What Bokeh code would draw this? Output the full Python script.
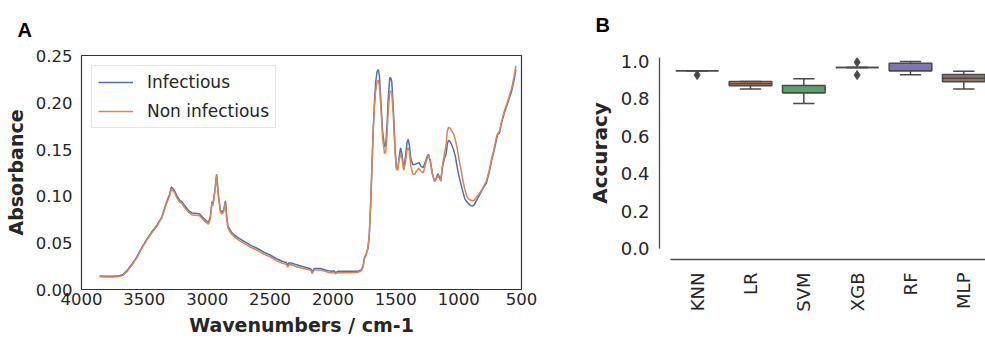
import math
from bokeh.plotting import figure
from bokeh.models import Range1d, Legend, LegendItem, FixedTicker, PrintfTickFormatter
from bokeh.layouts import row
from bokeh.embed import file_html
from bokeh.resources import INLINE

# ---------------- Panel A data: mean FTIR spectra ----------------
wavenumbers = [3857, 3800, 3750, 3700, 3670, 3640, 3600, 3560, 3520, 3480, 3440, 3400,
               3360, 3346, 3320, 3300, 3285, 3260, 3240, 3220, 3200, 3180, 3150, 3120,
               3080, 3060, 3040, 3010, 2990, 2975, 2962, 2955, 2940, 2925, 2910, 2895,
               2885, 2870, 2855, 2845, 2835, 2810, 2780, 2750, 2700, 2650, 2600, 2550,
               2500, 2450, 2400, 2370, 2360, 2350, 2330, 2300, 2250, 2200, 2175, 2165,
               2150, 2100, 2060, 2030, 2010, 1990, 1980, 1960, 1900, 1850, 1800, 1775,
               1760, 1750, 1735, 1720, 1710, 1700, 1690, 1680, 1670, 1660, 1650, 1640,
               1630, 1620, 1605, 1590, 1580, 1570, 1560, 1548, 1540, 1532, 1520, 1505,
               1495, 1485, 1475, 1462, 1450, 1437, 1425, 1410, 1402, 1392, 1380, 1365,
               1350, 1335, 1315, 1300, 1282, 1265, 1250, 1240, 1225, 1210, 1192, 1180,
               1165, 1150, 1142, 1130, 1115, 1100, 1090, 1080, 1068, 1055, 1040, 1025,
               1010, 995, 980, 965, 950, 935, 920, 905, 890, 875, 860, 840,
               820, 800, 780, 760, 740, 720, 700, 690, 675, 660, 640, 620,
               600, 580, 560, 545]
infectious = [0.0146, 0.0143, 0.0142, 0.0147, 0.0160, 0.0200, 0.0270, 0.0350, 0.0450, 0.0540, 0.0620, 0.0690,
              0.0780, 0.0844, 0.0950, 0.1020, 0.1100, 0.1060, 0.1000, 0.0960, 0.0940, 0.0900, 0.0850, 0.0820,
              0.0815, 0.0810, 0.0780, 0.0740, 0.0720, 0.0780, 0.0940, 0.0920, 0.1050, 0.1235, 0.1000, 0.0850,
              0.0830, 0.0850, 0.0950, 0.0780, 0.0680, 0.0620, 0.0580, 0.0550, 0.0510, 0.0470, 0.0440, 0.0400,
              0.0370, 0.0330, 0.0300, 0.0290, 0.0260, 0.0285, 0.0285, 0.0270, 0.0250, 0.0230, 0.0220, 0.0190,
              0.0225, 0.0225, 0.0210, 0.0200, 0.0195, 0.0200, 0.0180, 0.0195, 0.0195, 0.0195, 0.0195, 0.0210,
              0.0250, 0.0340, 0.0380, 0.0450, 0.0600, 0.0900, 0.1300, 0.1700, 0.2000, 0.2220, 0.2330, 0.2360,
              0.2290, 0.2050, 0.1700, 0.1530, 0.1550, 0.1750, 0.2050, 0.2270, 0.2270, 0.2230, 0.1950, 0.1500,
              0.1310, 0.1290, 0.1400, 0.1520, 0.1450, 0.1290, 0.1400, 0.1580, 0.1610, 0.1550, 0.1400, 0.1340,
              0.1340, 0.1350, 0.1360, 0.1320, 0.1307, 0.1370, 0.1430, 0.1450, 0.1380, 0.1250, 0.1160, 0.1190,
              0.1240, 0.1200, 0.1170, 0.1300, 0.1400, 0.1450, 0.1560, 0.1600, 0.1590, 0.1550, 0.1500, 0.1420,
              0.1300, 0.1200, 0.1120, 0.1040, 0.0970, 0.0940, 0.0920, 0.0900, 0.0895, 0.0910, 0.0950, 0.1000,
              0.1050, 0.1100, 0.1140, 0.1240, 0.1370, 0.1480, 0.1600, 0.1660, 0.1680, 0.1780, 0.1880, 0.1960,
              0.2040, 0.2120, 0.2240, 0.2360]
non_infectious = [0.0138, 0.0135, 0.0135, 0.0140, 0.0152, 0.0190, 0.0260, 0.0340, 0.0440, 0.0530, 0.0610, 0.0680,
                  0.0770, 0.0832, 0.0935, 0.1000, 0.1080, 0.1040, 0.0980, 0.0940, 0.0920, 0.0880, 0.0830, 0.0800,
                  0.0795, 0.0790, 0.0760, 0.0720, 0.0700, 0.0760, 0.0930, 0.0900, 0.1040, 0.1225, 0.0990, 0.0830,
                  0.0810, 0.0830, 0.0930, 0.0760, 0.0660, 0.0600, 0.0560, 0.0530, 0.0490, 0.0450, 0.0420, 0.0380,
                  0.0350, 0.0310, 0.0280, 0.0270, 0.0240, 0.0265, 0.0265, 0.0250, 0.0230, 0.0215, 0.0205, 0.0170,
                  0.0210, 0.0210, 0.0195, 0.0180, 0.0180, 0.0180, 0.0170, 0.0180, 0.0180, 0.0180, 0.0185, 0.0200,
                  0.0240, 0.0330, 0.0370, 0.0460, 0.0620, 0.0920, 0.1300, 0.1680, 0.1950, 0.2130, 0.2220, 0.2245,
                  0.2190, 0.1980, 0.1630, 0.1460, 0.1470, 0.1650, 0.1920, 0.2120, 0.2130, 0.2110, 0.1880, 0.1460,
                  0.1290, 0.1280, 0.1380, 0.1460, 0.1400, 0.1280, 0.1350, 0.1500, 0.1520, 0.1480, 0.1320, 0.1240,
                  0.1236, 0.1270, 0.1300, 0.1270, 0.1250, 0.1340, 0.1410, 0.1440, 0.1370, 0.1240, 0.1160, 0.1180,
                  0.1220, 0.1190, 0.1160, 0.1320, 0.1440, 0.1550, 0.1700, 0.1740, 0.1730, 0.1700, 0.1670, 0.1600,
                  0.1500, 0.1380, 0.1280, 0.1160, 0.1070, 0.1000, 0.0970, 0.0960, 0.0950, 0.0960, 0.0990, 0.1020,
                  0.1060, 0.1110, 0.1160, 0.1260, 0.1390, 0.1500, 0.1630, 0.1670, 0.1700, 0.1790, 0.1900, 0.1980,
                  0.2060, 0.2150, 0.2280, 0.2400]
x_ticks_a = [4000, 3500, 3000, 2500, 2000, 1500, 1000, 500]
y_ticks_a = [0.00, 0.05, 0.10, 0.15, 0.20, 0.25]

# ---------------- Panel B data: cross-validated accuracy ----------------
models = ["KNN", "LR", "SVM", "XGB", "RF", "MLP"]
q1 = [0.950, 0.870, 0.832, 0.968, 0.950, 0.892]
median = [0.950, 0.881, 0.832, 0.968, 0.950, 0.910]
q3 = [0.950, 0.893, 0.871, 0.968, 0.990, 0.930]
whisker_low = [0.950, 0.853, 0.775, 0.968, 0.929, 0.853]
whisker_high = [0.950, 0.893, 0.908, 0.968, 1.000, 0.948]
outlier_models = ["KNN", "XGB", "XGB"]
outlier_values = [0.927, 0.996, 0.927]
box_colors = ["#5975a4", "#d08a60", "#5f9e6e", "#b55d60", "#8276b0", "#8d7866"]
y_ticks_b = [0.0, 0.2, 0.4, 0.6, 0.8, 1.0]

TICK_FONT = "DejaVu Sans"
EDGE = "#4a4a4a"


def style_letter(p, standoff, line_height):
    p.title.align = "left"
    p.title.offset = -64
    p.title.standoff = standoff
    p.title.text_line_height = line_height
    p.title.text_font = "Liberation Sans"
    p.title.text_font_size = "20px"
    p.title.text_font_style = "bold"
    p.title.text_color = "black"


# ---------------- Panel A ----------------
p1 = figure(width=560, height=345, x_range=Range1d(4000, 500), y_range=Range1d(0, 0.251),
            output_backend="svg", toolbar_location=None, title="A",
            min_border_left=81, min_border_right=39, min_border_top=55, min_border_bottom=56)
p1.frame_align = False
style_letter(p1, 30, 0.7)

r_inf = p1.line(wavenumbers, infectious, line_color="#4c72b0", line_width=1.5)
r_non = p1.line(wavenumbers, non_infectious, line_color="#dd8452", line_width=1.5)

p1.grid.visible = False
p1.outline_line_color = "#333333"
p1.outline_line_width = 1.2
for ax in (p1.xaxis[0], p1.yaxis[0]):
    ax.axis_line_color = None
    ax.major_tick_out = 0
    ax.major_tick_in = 0
    ax.minor_tick_out = 0
    ax.minor_tick_in = 0
    ax.major_label_text_font = TICK_FONT
    ax.major_label_text_font_size = "16.5px"
    ax.major_label_text_color = "#262626"
    ax.axis_label_text_font = TICK_FONT
    ax.axis_label_text_font_style = "bold"
    ax.axis_label_text_font_size = "19px"
    ax.axis_label_text_color = "#262626"
p1.xaxis.ticker = FixedTicker(ticks=x_ticks_a)
p1.xaxis.formatter = PrintfTickFormatter(format="%d")
p1.xaxis.major_label_standoff = 3
p1.xaxis.axis_label = "Wavenumbers / cm-1"
p1.xaxis.axis_label_standoff = 6
p1.yaxis.ticker = FixedTicker(ticks=y_ticks_a)
p1.yaxis.formatter = PrintfTickFormatter(format="%.2f")
p1.yaxis.major_label_standoff = 9
p1.yaxis.axis_label = "Absorbance"
p1.yaxis.axis_label_standoff = 6

legend = Legend(items=[LegendItem(label="Infectious", renderers=[r_inf]),
                       LegendItem(label="Non infectious", renderers=[r_non])],
                location="top_left", margin=10, padding=6, spacing=9,
                glyph_width=35, glyph_height=16, label_standoff=14,
                label_text_font=TICK_FONT, label_text_font_size="17px", label_text_color="#262626",
                border_line_color="#cccccc", border_line_width=1, background_fill_alpha=0.8)
p1.add_layout(legend)

# ---------------- Panel B ----------------
step_px = 53.33
x_start = -0.5 - 11 / step_px
x_end = x_start + 326 / step_px
p2 = figure(width=425, height=345, x_range=Range1d(x_start, x_end),
            y_range=Range1d(-11 / 188, 203 / 188),
            output_backend="svg", toolbar_location=None, title="B",
            min_border_left=99, min_border_right=0, min_border_top=45, min_border_bottom=86)
p2.frame_align = False
style_letter(p2, 22, 1.0)

xpos = list(range(len(models)))
half_box = 0.4
half_cap = 0.2
p2.vbar(x=xpos, width=2 * half_box, bottom=q1, top=q3, fill_color=box_colors,
        line_color=EDGE, line_width=1.5)
p2.segment(x0=xpos, y0=q3, x1=xpos, y1=whisker_high, line_color=EDGE, line_width=1.5)
p2.segment(x0=xpos, y0=q1, x1=xpos, y1=whisker_low, line_color=EDGE, line_width=1.5)
p2.segment(x0=[x - half_cap for x in xpos], y0=whisker_high,
           x1=[x + half_cap for x in xpos], y1=whisker_high, line_color=EDGE, line_width=1.5)
p2.segment(x0=[x - half_cap for x in xpos], y0=whisker_low,
           x1=[x + half_cap for x in xpos], y1=whisker_low, line_color=EDGE, line_width=1.5)
p2.segment(x0=[x - half_box for x in xpos], y0=median,
           x1=[x + half_box for x in xpos], y1=median, line_color=EDGE, line_width=1.5)
p2.scatter(x=[models.index(m) for m in outlier_models], y=outlier_values, marker="diamond",
           size=9, fill_color=EDGE, line_color=EDGE)

p2.grid.visible = False
p2.outline_line_color = None
for ax in (p2.xaxis[0], p2.yaxis[0]):
    ax.axis_line_color = EDGE
    ax.axis_line_width = 1.3
    ax.major_tick_out = 0
    ax.major_tick_in = 0
    ax.minor_tick_out = 0
    ax.minor_tick_in = 0
    ax.major_label_text_font = TICK_FONT
    ax.major_label_text_font_size = "18px"
    ax.major_label_text_color = "#262626"
    ax.axis_label_text_font = TICK_FONT
    ax.axis_label_text_font_style = "bold"
    ax.axis_label_text_font_size = "20px"
    ax.axis_label_text_color = "#262626"
p2.xaxis.ticker = FixedTicker(ticks=xpos)
p2.xaxis.major_label_overrides = {i: m for i, m in enumerate(models)}
p2.xaxis.major_label_orientation = math.pi / 2
p2.xaxis.major_label_standoff = 13
p2.xaxis.bounds = (-0.5, x_end)
p2.yaxis.ticker = FixedTicker(ticks=y_ticks_b)
p2.yaxis.formatter = PrintfTickFormatter(format="%.1f")
p2.yaxis.major_label_standoff = 10
p2.yaxis.bounds = (0, 1.02)
p2.yaxis.axis_label = "Accuracy"
p2.yaxis.axis_label_standoff = 6

layout = row(p1, p2)
open("out.html", "w").write(file_html(layout, INLINE))
